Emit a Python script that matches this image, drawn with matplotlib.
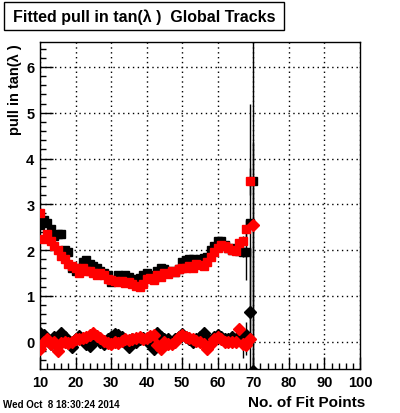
import numpy as np
import matplotlib
matplotlib.use("Agg")
import matplotlib.pyplot as plt
from matplotlib.ticker import MultipleLocator

plt.rcParams['font.family'] = ['Liberation Sans', 'DejaVu Sans']
plt.rcParams['font.weight'] = 'bold'

x_points = list(range(10, 71))

black_sigma = [2.55, 2.65, 2.60, 2.45, 2.30, 2.35, 2.35, 2.00, 1.95, 1.60,
               1.55, 1.62, 1.75, 1.78, 1.70, 1.65, 1.60, 1.55, 1.50, 1.45,
               1.30, 1.35, 1.45, 1.40, 1.45, 1.42, 1.30, 1.38, 1.40, 1.45,
               1.50, 1.45, 1.40, 1.55, 1.62, 1.58, 1.52, 1.55, 1.52, 1.58,
               1.75, 1.78, 1.80, 1.80, 1.78, 1.80, 1.82, 1.85, 2.00, 2.10,
               2.20, 2.20, 2.12, 2.05, 2.00, 2.05, 1.98, 1.95, 1.95, 2.60,
               3.50]
black_sigma_err = [0.03] * 56 + [0.05, 0.1, 0.6, 2.6, 5.0]

red_sigma = [2.80, 2.25, 2.35, 2.20, 2.10, 2.00, 1.88, 1.80, 1.70, 1.65,
             1.60, 1.50, 1.62, 1.55, 1.55, 1.50, 1.45, 1.50, 1.45, 1.38,
             1.35, 1.32, 1.30, 1.32, 1.28, 1.30, 1.25, 1.22, 1.20, 1.25,
             1.38, 1.40, 1.35, 1.45, 1.42, 1.50, 1.48, 1.55, 1.52, 1.58,
             1.62, 1.60, 1.65, 1.62, 1.70, 1.68, 1.65, 1.75, 1.85, 1.95,
             2.05, 2.12, 2.10, 2.05, 2.00, 1.98, 2.15, 2.20, 2.45, 3.50]
red_sigma_err = [0.03] * 56 + [0.05, 0.1, 0.2, 0.3]

black_mean = [0.20, 0.15, 0.05, -0.05, 0.10, 0.05, 0.20, 0.10, 0.00, -0.12,
              0.05, 0.13, 0.05, -0.05, -0.10, 0.00, 0.05, 0.00, -0.05, 0.05,
              0.10, 0.17, 0.15, 0.10, 0.00, -0.12, 0.05, 0.00, 0.05, 0.08,
              0.05, -0.05, -0.15, 0.18, 0.10, 0.05, 0.05, 0.00, 0.05, 0.10,
              0.17, 0.10, 0.05, 0.00, 0.05, 0.10, 0.20, 0.05, 0.00, 0.10,
              0.15, 0.10, 0.05, 0.05, 0.10, 0.05, 0.05, 0.12, 0.14, 0.64,
              -0.65]
black_mean_err = [0.02] * 56 + [0.05, 0.1, 0.3, 1.4, 5.0]

red_mean = [-0.15, 0.00, 0.05, -0.05, 0.00, -0.20, -0.02, 0.00, -0.03, 0.00,
            0.05, 0.05, 0.08, 0.10, 0.15, 0.20, 0.12, 0.08, 0.02, -0.02,
            -0.05, 0.00, -0.03, 0.02, 0.05, 0.03, 0.05, 0.08, 0.10, 0.05,
            0.08, 0.12, 0.15, -0.08, -0.15, 0.00, -0.05, -0.05, 0.00, 0.10,
            0.15, 0.10, 0.08, 0.05, 0.02, 0.00, -0.05, -0.15, -0.05, 0.05,
            0.10, 0.05, 0.00, 0.00, 0.00, 0.00, 0.28, -0.05, -0.08, 0.05,
            2.55]
red_mean_err = [0.02] * 56 + [0.05, 0.3, 0.2, 0.1, 0.05]

title_text = "Fitted pull in tan(\u03bb )  Global Tracks"
xlabel_text = "No. of Fit Points"
ylabel_text = "pull in tan(\u03bb )"
date_text = "Wed Oct  8 18:30:24 2014"

W, H = 400, 414
fig = plt.figure(figsize=(W / 100, H / 100), dpi=100)
fig.patch.set_facecolor('white')
ax = fig.add_axes([40 / W, 1 - 370 / H, 320 / W, (370 - 42.5) / H])

xs = np.array(x_points)
ms_sq = 6.4
ms_di = 6.0
ax.errorbar(xs, black_sigma, yerr=black_sigma_err, fmt='s', color='black',
            ms=ms_sq, elinewidth=1, capsize=0, zorder=3)
ax.errorbar(xs, black_mean, yerr=black_mean_err, fmt='D', color='black',
            ms=ms_di, elinewidth=1, capsize=0, zorder=3)
ax.errorbar(xs[:len(red_sigma)], red_sigma, yerr=red_sigma_err, fmt='s',
            color='#ff0000', ecolor='black', ms=ms_sq, elinewidth=1,
            capsize=0, zorder=4)
ax.errorbar(xs, red_mean, yerr=red_mean_err, fmt='D', color='#ff0000',
            ecolor='black', ms=ms_di, elinewidth=1, capsize=0, zorder=4)

ax.set_xlim(10, 100)
ax.set_ylim(-0.596, 6.555)
ax.xaxis.set_major_locator(MultipleLocator(10))
ax.xaxis.set_minor_locator(MultipleLocator(2))
ax.yaxis.set_major_locator(MultipleLocator(1))
ax.yaxis.set_minor_locator(MultipleLocator(0.2))
ax.grid(True, which='major', color='black', linestyle=(0, (1, 2.5)), linewidth=1)
ax.set_axisbelow(True)
ax.tick_params(which='both', direction='in', top=False, right=False,
               labelsize=10.5, width=1, color='black')
ax.tick_params(which='major', length=9, pad=4)
ax.tick_params(which='minor', length=4.5)
for lab in ax.get_xticklabels() + ax.get_yticklabels():
    lab.set_fontweight('bold')
for sp in ax.spines.values():
    sp.set_linewidth(1)
    sp.set_color('black')

fig.text(365 / W, 1 - 403 / H, xlabel_text, ha='right', va='center',
         fontsize=11, fontweight='bold')
fig.text(15 / W, 1 - 44 / H, ylabel_text, ha='center', va='top',
         rotation=90, fontsize=10.5, fontweight='bold')
fig.text(3 / W, 1 - 405 / H, date_text, ha='left', va='center',
         fontsize=7, fontweight='bold')

fig.text(144 / W, 1 - 17 / H, title_text, ha='center', va='center',
         fontsize=11.5, fontweight='bold')
box = plt.Rectangle((4 / W, 1 - 30.7 / H), 280 / W, 28 / H,
                    transform=fig.transFigure, fill=False, edgecolor='black',
                    linewidth=1)
fig.add_artist(box)

fig.savefig("out.png", dpi=100)
